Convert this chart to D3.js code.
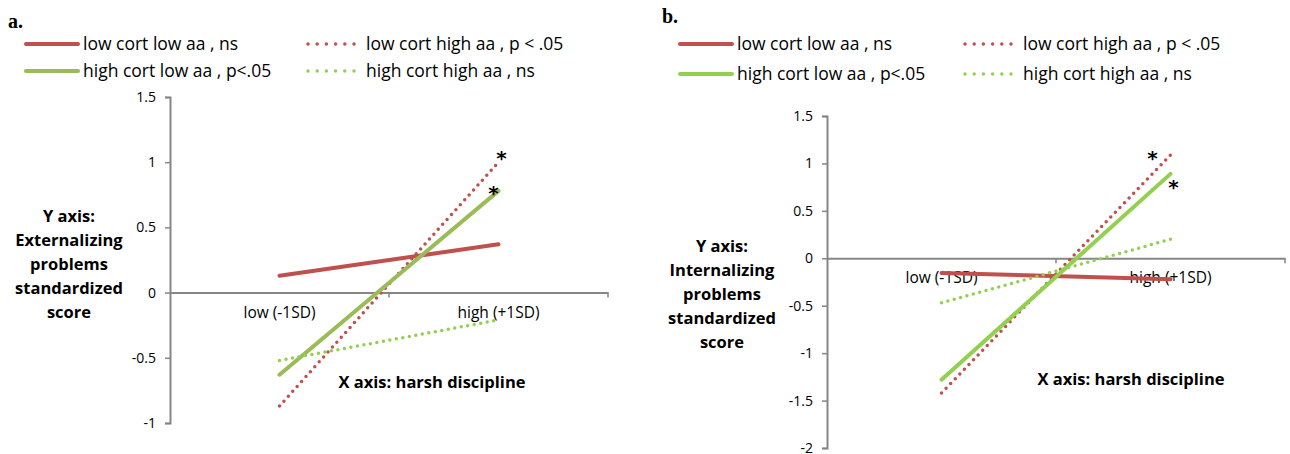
<!DOCTYPE html>
<html>
<head>
<meta charset="utf-8">
<script src="https://cdn.jsdelivr.net/npm/d3@7"></script>
<style>
  body { margin: 0; background: #fff; }
  text { font-family: "Open Sans", sans-serif; }
</style>
</head>
<body>
<div id="my_dataviz"></div>
<script>

// data
var categories = ["low (-1SD)", "high (+1SD)"];
var seriesNames = ["low cort low aa , ns", "low cort high aa , p < .05",
                   "high cort low aa , p<.05", "high cort high aa , ns"];

var extLowLow   = [0.13, 0.37];
var extLowHigh  = [-0.87, 1.0];
var extHighLow  = [-0.63, 0.78];
var extHighHigh = [-0.52, -0.21];

var intLowLow   = [-0.155, -0.22];
var intLowHigh  = [-1.42, 1.09];
var intHighLow  = [-1.28, 0.89];
var intHighHigh = [-0.47, 0.20];

var ticksA = [-1, -0.5, 0, 0.5, 1, 1.5];
var ticksB = [-2, -1.5, -1, -0.5, 0, 0.5, 1, 1.5];

var red = "#C0504D", olive = "#9BBB59", lime = "#92D050", axisGrey = "#868686";

var svg = d3.select("#my_dataviz")
  .append("svg")
  .attr("width", 1290)
  .attr("height", 454);

// one panel of the figure
function drawPanel(p) {
  var x = d3.scaleBand().domain(categories).range([p.x0, p.x1]).padding(0);
  var y = d3.scaleLinear().domain(p.yDomain).range([p.yBottom, p.yTop]);
  var g = svg.append("g");

  // panel letter
  g.append("text")
    .attr("x", p.letterX).attr("y", p.letterY)
    .style("font-family", "'Liberation Serif', serif")
    .style("font-weight", "bold").style("font-size", "20px")
    .text(p.letter);

  // y axis
  var yAxis = g.append("g")
    .attr("transform", "translate(" + p.x0 + ",0)")
    .call(d3.axisLeft(y).tickValues(p.ticks).tickSize(5).tickPadding(9).tickFormat(function(d) { return String(d); }));
  yAxis.select(".domain").attr("stroke", axisGrey).attr("stroke-width", 2);
  yAxis.selectAll(".tick line").attr("stroke", axisGrey).attr("stroke-width", 1.5);
  yAxis.selectAll(".tick text").style("font-size", "14px").attr("fill", "#000")
    .style("font-family", "'Open Sans', sans-serif");

  // x axis crossing at 0
  var xAxis = g.append("g")
    .attr("transform", "translate(0," + y(0) + ")")
    .call(d3.axisBottom(x).tickSize(0).tickPadding(p.labelPad));
  xAxis.select(".domain").attr("stroke", axisGrey).attr("stroke-width", 2);
  xAxis.selectAll(".tick text").style("font-size", "15.5px").attr("fill", "#000")
    .style("font-family", "'Open Sans', sans-serif");
  // category boundary ticks
  xAxis.selectAll(".bound")
    .data(categories.slice(1).concat(["end"]))
    .enter().append("line")
    .attr("x1", function(d) { return d === "end" ? p.x1 : x(d); })
    .attr("x2", function(d) { return d === "end" ? p.x1 : x(d); })
    .attr("y1", 0).attr("y2", 5)
    .attr("stroke", axisGrey).attr("stroke-width", 1.5);

  var line = d3.line()
    .x(function(d, i) { return x(categories[i]) + x.bandwidth() / 2; })
    .y(function(d) { return y(d); });

  p.series.forEach(function(s) {
    g.append("path")
      .datum(s.values)
      .attr("d", line)
      .attr("fill", "none")
      .attr("stroke", s.color)
      .attr("stroke-width", s.dotted ? 3.5 : 4)
      .attr("stroke-linecap", "round")
      .attr("stroke-dasharray", s.dotted ? "0,6.6" : null);
  });

  // significance stars
  p.stars.forEach(function(st) {
    g.append("text")
      .attr("x", x(categories[1]) + x.bandwidth() / 2 + st.dx)
      .attr("y", y(st.values[1]) + st.dy)
      .attr("text-anchor", "middle")
      .style("font-size", "20px")
      .style("font-weight", "bold")
      .style("font-family", "'DejaVu Sans', sans-serif")
      .text("*");
  });

  // axis titles
  g.append("text")
    .attr("x", p.xTitleX).attr("y", p.xTitleY)
    .attr("text-anchor", "middle")
    .style("font-weight", "bold").style("font-size", "16.5px")
    .text("X axis: harsh discipline");

  g.append("text")
    .attr("text-anchor", "middle")
    .style("font-weight", "bold").style("font-size", "16.5px")
    .selectAll("tspan")
    .data(p.yTitle)
    .enter().append("tspan")
    .attr("x", p.yTitleX)
    .attr("y", function(d, i) { return p.yTitleY + i * 24; })
    .text(function(d) { return d; });

  // legend
  var leg = g.selectAll(".leg")
    .data(p.series)
    .enter().append("g")
    .attr("transform", function(d, i) {
      var col = i % 2, row = Math.floor(i / 2);
      return "translate(" + p.legX[col] + "," + p.legY[row] + ")";
    });
  leg.append("line")
    .attr("x1", function(d) { return d.dotted ? 0 : -2; })
    .attr("x2", function(d) { return d.dotted ? 47 : 50; })
    .attr("y1", 0).attr("y2", 0)
    .attr("stroke", function(d) { return d.color; })
    .attr("stroke-width", function(d) { return d.dotted ? 3.5 : 4; })
    .attr("stroke-linecap", "round")
    .attr("stroke-dasharray", function(d) { return d.dotted ? "0,9.2" : null; });
  leg.append("text")
    .attr("x", function(d) { return d.dotted ? 58 : 55; })
    .attr("y", 6)
    .style("font-size", "17.5px")
    .text(function(d) { return d.name; });
}

drawPanel({
  letter: "a.", letterX: 8, letterY: 28,
  x0: 170, x1: 608, yDomain: [-1, 1.5], yBottom: 423, yTop: 97,
  ticks: ticksA, labelPad: 14,
  series: [
    {name: seriesNames[0], values: extLowLow, color: red, dotted: false},
    {name: seriesNames[1], values: extLowHigh, color: red, dotted: true},
    {name: seriesNames[2], values: extHighLow, color: olive, dotted: false},
    {name: seriesNames[3], values: extHighHigh, color: lime, dotted: true}
  ],
  stars: [{values: extLowHigh, dx: 3, dy: 3}, {values: extHighLow, dx: -5, dy: 9}],
  xTitleX: 432, xTitleY: 388,
  yTitle: ["Y axis:", "Externalizing", "problems", "standardized", "score"],
  yTitleX: 69, yTitleY: 222,
  legX: [28, 308], legY: [44, 71]
});

drawPanel({
  letter: "b.", letterX: 662, letterY: 23,
  x0: 827, x1: 1285, yDomain: [-2, 1.5], yBottom: 448, yTop: 116,
  ticks: ticksB, labelPad: 14,
  series: [
    {name: seriesNames[0], values: intLowLow, color: red, dotted: false},
    {name: seriesNames[1], values: intLowHigh, color: red, dotted: true},
    {name: seriesNames[2], values: intHighLow, color: lime, dotted: false},
    {name: seriesNames[3], values: intHighHigh, color: lime, dotted: true}
  ],
  stars: [{values: intLowHigh, dx: -18, dy: 10}, {values: intHighLow, dx: 3, dy: 20}],
  xTitleX: 1131, xTitleY: 385,
  yTitle: ["Y axis:", "Internalizing", "problems", "standardized", "score"],
  yTitleX: 722, yTitleY: 252,
  legX: [682, 965], legY: [44, 74]
});

</script>
</body>
</html>
